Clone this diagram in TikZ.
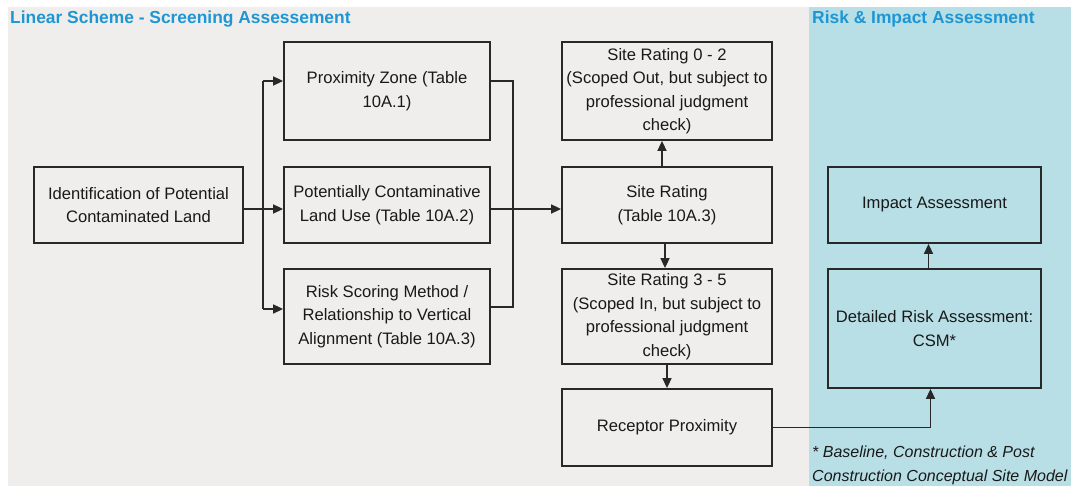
\documentclass[tikz,border=0pt]{standalone}
\usepackage{fontspec}
\setmainfont{Liberation Sans}
\usetikzlibrary{arrows.meta,positioning}
\definecolor{bggray}{RGB}{239,238,237}
\definecolor{bgblue}{RGB}{184,223,230}
\definecolor{titleblue}{RGB}{30,150,212}
\definecolor{linec}{RGB}{40,40,40}
\definecolor{textc}{RGB}{25,25,25}
\tikzset{
  box/.style={draw=linec, line width=1.8pt, align=center, inner sep=0pt,
    font=\fontsize{16.6}{23.5}\selectfont, text=textc},
  conn/.style={draw=linec, line width=1.6pt},
  arr/.style={conn, -{Triangle[length=10pt,width=9pt]}},
  paneltitle/.style={anchor=west, inner sep=0pt, text=titleblue,
    font=\fontsize{17.4}{20}\selectfont\bfseries},
  note/.style={anchor=west, inner sep=0pt, text=textc,
    font=\fontsize{16}{20}\selectfont\itshape}
}
\begin{document}
\begin{tikzpicture}[x=1pt,y=-1pt]
\useasboundingbox (0,0) rectangle (1071,486);
\fill[white] (0,0) rectangle (1071,486);
\fill[bggray] (8,7) rectangle (809,486);
\fill[bgblue] (809,7) rectangle (1071,486);
\node[paneltitle] (t1) at (10,19) {Linear Scheme - Screening Assessement};
\node[paneltitle] (t2) at (812,19) {Risk \& Impact Assessment};

\node[box, fill=bggray, minimum width=209pt, minimum height=76pt] (ident) at (138.5,205) {Identification of Potential\\Contaminated Land};
\node[box, fill=bggray, minimum width=206pt, minimum height=98pt] (prox) at (387,91) {Proximity Zone (Table\\10A.1)};
\node[box, fill=bggray, minimum width=206pt, minimum height=76pt] (pclu) at (387,205) {Potentially Contaminative\\Land Use (Table 10A.2)};
\node[box, fill=bggray, minimum width=206pt, minimum height=95pt] (risk) at (387,316.5) {Risk Scoring Method /\\Relationship to Vertical\\Alignment (Table 10A.3)};
\node[box, fill=bggray, minimum width=210pt, minimum height=98pt] (sr02) at (667,91) {Site Rating 0 - 2\\(Scoped Out, but subject to\\professional judgment\\check)};
\node[box, fill=bggray, minimum width=210pt, minimum height=76pt] (sr) at (667,205) {Site Rating\\(Table 10A.3)};
\node[box, fill=bggray, minimum width=210pt, minimum height=95pt] (sr35) at (667,316.5) {Site Rating 3 - 5\\(Scoped In, but subject to\\professional judgment\\check)};
\node[box, fill=bggray, minimum width=210pt, minimum height=77pt] (rec) at (667,427.5) {Receptor Proximity};
\node[box, minimum width=213pt, minimum height=76pt] (impact) at (934.5,205) {Impact Assessment};
\node[box, minimum width=213pt, minimum height=119pt] (detail) at (934.5,328.5) {Detailed Risk Assessment:\\CSM*};

\node[note] (n1) at (812,453) {* Baseline, Construction \& Post};
\node[note] (n2) at (812,477) {Construction Conceptual Site Model};

% left fan-out
\draw[arr] ([yshift=-4pt]ident.east) -- ([yshift=-4pt]pclu.west);
\coordinate (jt) at (263,81);
\coordinate (jb) at (263,309);
\draw[arr] (jt) -- (jt -| prox.west);
\draw[conn] (jt) -- (jb);
\draw[arr] (jb) -- (jb -| risk.west);

% right merge
\coordinate (pr) at (prox.east |- 0,81);
\coordinate (rr) at (risk.east |- 0,307);
\draw[conn] (pr) -- (513,81) -- (513,307) -- (rr);
\draw[arr] ([yshift=-4pt]pclu.east) -- ([yshift=-4pt]sr.west);

% site rating column
\draw[arr] ([xshift=-5pt]sr.north) -- ([xshift=-5pt]sr02.south);
\draw[arr] ([xshift=-2pt]sr.south) -- ([xshift=-2pt]sr35.north);
\draw[arr] (sr35.south) -- (rec.north);

% to risk assessment
\draw[arr] (rec.east) -| ([xshift=-4pt]detail.south);
\draw[arr] ([xshift=-6pt]detail.north) -- ([xshift=-6pt]impact.south);
\end{tikzpicture}
\end{document}
